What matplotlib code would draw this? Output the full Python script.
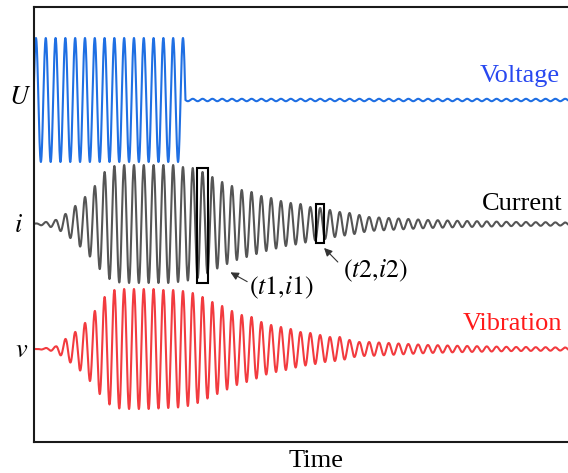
import numpy as np
import matplotlib
matplotlib.use('Agg')
import matplotlib.pyplot as plt
from matplotlib.patches import Rectangle

plt.rcParams['font.family'] = ['Liberation Serif', 'DejaVu Serif']
plt.rcParams['mathtext.fontset'] = 'stix'

# peak amplitude of each cycle (full voltage swing = 62)
voltage_peaks = [62] * 16 + [1.2] * 42
current_peaks = [0.5, 2, 4, 10, 18, 27, 38, 52, 58, 59, 59, 59, 59, 59, 59,
                 57, 56, 52, 47, 42, 38, 34, 32, 28, 26, 23, 21, 20, 17, 16,
                 14, 12, 11, 9, 7, 6.5, 6, 5.5, 5, 4.5, 4, 3.8, 3.5, 3.2, 3,
                 2.8, 2.6, 2.4, 2.2, 2, 2, 1.8, 1.8, 1.6, 1.5, 1.5, 1.4, 1.4]
vibration_peaks = [0, 1, 2.5, 10, 17, 26, 38, 52, 59, 60, 60, 60, 60, 59, 59,
                   58, 56, 52, 47, 43, 38, 34, 32, 27, 24, 22, 20, 17, 16, 14,
                   12, 12, 9, 7, 7, 6.5, 6, 5.5, 5, 4.5, 4, 3.8, 3.5, 3.2, 3,
                   2.8, 2.6, 2.4, 2.2, 2, 2, 1.8, 1.8, 1.6, 1.5, 1.5, 1.4, 1.4]

# marked samples (cycle span, value span)
box_cycles = [(16.43, 17.55), (28.57, 29.39)]
box_values = [(-68, -183), (-104, -143)]
box_labels = [r'$(t1{,}i1)$', r'$(t2{,}i2)$']

# channel baselines
off_u, off_i, off_v = 0, -124, -249

x0, x1 = -0.2, 57.35
t = np.linspace(x0, x1, 9000)
cyc = np.arange(len(current_peaks))

# voltage: switched off a quarter cycle after the last peak
idx = np.clip(np.floor(t + 0.75).astype(int), 0, len(voltage_peaks) - 1)
u = np.array(voltage_peaks)[idx] * np.cos(2 * np.pi * t)
i_env = np.interp(t, cyc, current_peaks)
v_env = np.interp(t, cyc, vibration_peaks)
cur = i_env * np.cos(2 * np.pi * t)
vib = v_env * np.cos(2 * np.pi * t)

fig = plt.figure(figsize=(5.68, 4.73), dpi=100)
ax = fig.add_axes([34 / 568, 1 - 442 / 473, (598 - 34) / 568, 435 / 473])

ax.plot(t, u + off_u, color='#1f6fe3', lw=1.5)
ax.plot(t, cur + off_i, color='#555555', lw=1.5)
ax.plot(t, vib + off_v, color='#f23b3f', lw=1.5)

ax.set_xlim(x0, x1)
ax.set_ylim(-342, 93)
ax.set_xticks([])
ax.set_yticks([])
for s in ['left', 'top', 'bottom']:
    ax.spines[s].set_linewidth(1.5)
    ax.spines[s].set_color('#1a1a1a')
ax.spines['right'].set_visible(False)

# boxes and arrows
for (c0, c1), (y0, y1) in zip(box_cycles, box_values):
    ax.add_patch(Rectangle((c0, y1), c1 - c0, y0 - y1, fill=False,
                           ec='black', lw=1.5, zorder=5))

ax.annotate('', xy=(19.6, -171), xytext=(21.8, -183),
            arrowprops=dict(arrowstyle='-|>', color='#333333', lw=0.8,
                            mutation_scale=12))
ax.annotate('', xy=(29.2, -146), xytext=(31.0, -164),
            arrowprops=dict(arrowstyle='-|>', color='#333333', lw=0.8,
                            mutation_scale=12))
ax.text(25.0, -188, box_labels[0], fontsize=18.5, ha='center', va='center')
ax.text(34.6, -171, box_labels[1], fontsize=18.5, ha='center', va='center')

# channel names
ax.text(53.5, 18, 'Voltage', color='#2848f0', fontsize=19, ha='right', va='baseline')
ax.text(53.7, -110, 'Current', color='black', fontsize=19, ha='right', va='baseline')
ax.text(53.7, -230, 'Vibration', color='#ff1a1a', fontsize=19, ha='right', va='baseline')

ax.text(-1.65, -4, r'$U$', fontsize=19, ha='center', va='baseline')
ax.text(-1.75, -132, r'$i$', fontsize=19, ha='center', va='baseline')
ax.text(-1.5, -257, r'$v$', fontsize=19, ha='center', va='baseline')

ax.set_xlabel('Time', fontsize=19, labelpad=6)

fig.savefig('out.png', dpi=100)
